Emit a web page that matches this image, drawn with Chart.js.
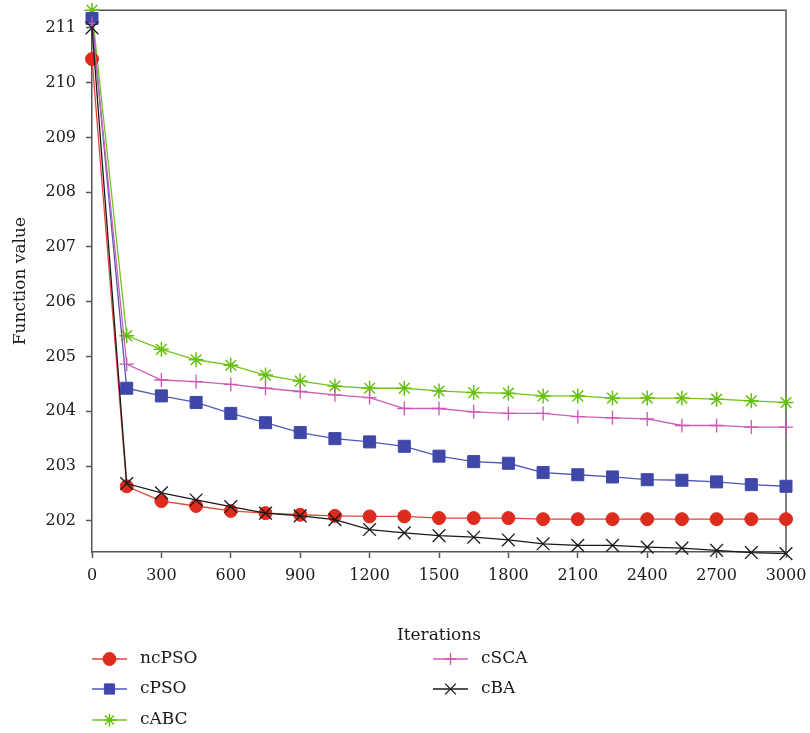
<!DOCTYPE html>
<html>
<head>
<meta charset="utf-8">
<script src="https://cdn.jsdelivr.net/npm/chart.js@4/dist/chart.umd.min.js"></script>
<style>
  html, body { margin: 0; padding: 0; background: #fff; }
  #wrap { width: 810px; height: 733px; position: relative; }
</style>
</head>
<body>
<div id="wrap"><canvas id="c" width="810" height="733"></canvas></div>
<script>
// Iteration counts sampled every 150 steps
const iterations = [0,150,300,450,600,750,900,1050,1200,1350,1500,1650,1800,1950,2100,2250,2400,2550,2700,2850,3000];

const ncPSO = [210.43,202.63,202.36,202.27,202.18,202.14,202.11,202.09,202.08,202.08,202.05,202.05,202.05,202.03,202.03,202.03,202.03,202.03,202.03,202.03,202.03];
const cPSO  = [211.17,204.42,204.28,204.16,203.96,203.79,203.61,203.50,203.44,203.36,203.18,203.08,203.05,202.88,202.84,202.80,202.75,202.74,202.71,202.66,202.63];
const cABC  = [211.32,205.38,205.13,204.94,204.84,204.66,204.55,204.46,204.42,204.42,204.37,204.34,204.33,204.28,204.28,204.24,204.24,204.24,204.22,204.19,204.16];
const cSCA  = [211.08,204.86,204.57,204.54,204.49,204.42,204.36,204.30,204.25,204.05,204.05,203.99,203.96,203.96,203.90,203.88,203.86,203.74,203.74,203.71,203.71];
const cBA   = [211.00,202.68,202.51,202.38,202.26,202.14,202.09,202.02,201.84,201.78,201.73,201.70,201.65,201.58,201.55,201.55,201.52,201.50,201.46,201.42,201.40];

const yTicks = [202,203,204,205,206,207,208,209,210,211];
const xTicks = [0,300,600,900,1200,1500,1800,2100,2400,2700,3000];

const FONT = "'DejaVu Serif', 'Liberation Serif', serif";
const TICK_SIZE = 16;
const TITLE_SIZE = 17;
const TEXT = '#1a1a1a';
const AXIS = '#555';

const series = [
  { label: 'ncPSO', data: ncPSO, color: '#dd2c1e', line: '#e2453a', style: 'circle',   radius: 6.5, bw: 1,   order: 3 },
  { label: 'cPSO',  data: cPSO,  color: '#3f48a8', line: '#4f58b8', style: 'rect',     radius: 8.5, bw: 1,   order: 4 },
  { label: 'cABC',  data: cABC,  color: '#66c10e', line: '#70c41c', style: 'star',     radius: 7.5, bw: 1.5, order: 5 },
  { label: 'cSCA',  data: cSCA,  color: '#cc55b5', line: '#cc5fb8', style: 'cross',    radius: 7,   bw: 1.3, order: 2 },
  { label: 'cBA',   data: cBA,   color: '#1a1a1a', line: '#1a1a1a', style: 'crossRot', radius: 9,   bw: 1.3, order: 1 }
];

const datasets = series.map(s => ({
  label: s.label,
  data: iterations.map((x, i) => ({ x: x, y: s.data[i] })),
  borderColor: s.line,
  borderWidth: 1.3,
  backgroundColor: s.color,
  pointStyle: s.style,
  pointRadius: s.radius,
  pointBorderColor: s.color,
  pointBackgroundColor: s.color,
  pointBorderWidth: s.bw,
  tension: 0,
  clip: false,
  order: s.order
}));

// Frame around the plotting area (top and right edges)
const framePlugin = {
  id: 'frame',
  beforeDatasetsDraw(chart) {
    const { ctx, chartArea: a } = chart;
    ctx.save();
    ctx.strokeStyle = AXIS;
    ctx.lineWidth = 1.5;
    ctx.beginPath();
    ctx.moveTo(a.left, a.top);
    ctx.lineTo(a.right, a.top);
    ctx.lineTo(a.right, a.bottom);
    ctx.stroke();
    ctx.restore();
  }
};

// Two-column legend under the axis title
const legendPlugin = {
  id: 'twoColLegend',
  afterDraw(chart) {
    const ctx = chart.ctx;
    const cols = [{ x0: 92, x1: 127, tx: 140 }, { x0: 433, x1: 468, tx: 481 }];
    const rows = [659, 689, 720];
    const slots = [[0, 0], [0, 1], [0, 2], [1, 0], [1, 1]];
    ctx.save();
    series.forEach((s, i) => {
      const c = cols[slots[i][0]];
      const y = rows[slots[i][1]];
      ctx.strokeStyle = s.line;
      ctx.lineWidth = 1.5;
      ctx.beginPath();
      ctx.moveTo(c.x0, y);
      ctx.lineTo(c.x1, y);
      ctx.stroke();
      ctx.fillStyle = s.color;
      ctx.strokeStyle = s.color;
      ctx.lineWidth = s.bw;
      Chart.helpers.drawPoint(ctx, { pointStyle: s.style, radius: s.style === 'circle' ? 6.5 : s.radius * 0.85, borderWidth: s.bw, rotation: 0 }, (c.x0 + c.x1) / 2, y);
      ctx.fillStyle = TEXT;
      ctx.font = TITLE_SIZE + "px " + FONT;
      ctx.textBaseline = 'middle';
      ctx.textAlign = 'left';
      ctx.fillText(s.label, c.tx, y);
    });
    ctx.restore();
  }
};

new Chart(document.getElementById('c'), {
  type: 'line',
  data: { datasets },
  plugins: [framePlugin, legendPlugin],
  options: {
    responsive: false,
    animation: false,
    events: [],
    layout: { padding: { top: 7, right: 24, bottom: 83, left: 0 } },
    plugins: { legend: { display: false }, tooltip: { enabled: false } },
    scales: {
      x: {
        type: 'linear',
        min: 0, max: 3000,
        afterBuildTicks: sc => { sc.ticks = xTicks.map(v => ({ value: v })); },
        afterFit: sc => { sc.height = 98; sc.paddingLeft = 0; sc.paddingRight = 0; },
        grid: { drawOnChartArea: false, drawTicks: true, tickLength: 6, tickColor: AXIS, tickWidth: 1.5 },
        border: { color: AXIS, width: 1.5 },
        ticks: { color: TEXT, font: { family: FONT, size: TICK_SIZE }, padding: 8, maxRotation: 0, callback: v => String(v) },
        title: { display: true, text: 'Iterations', color: TEXT, font: { family: FONT, size: TITLE_SIZE }, padding: { top: 4, bottom: 4 } }
      },
      y: {
        type: 'linear',
        min: 201.43, max: 211.32,
        afterBuildTicks: sc => { sc.ticks = yTicks.map(v => ({ value: v })); },
        afterFit: sc => { sc.width = 92; sc.paddingTop = 0; sc.paddingBottom = 0; },
        grid: { drawOnChartArea: false, drawTicks: true, tickLength: 6, tickColor: AXIS, tickWidth: 1.5 },
        border: { color: AXIS, width: 1.5 },
        ticks: { color: TEXT, font: { family: FONT, size: TICK_SIZE }, padding: 10, callback: v => String(v) },
        title: { display: true, text: 'Function value', color: TEXT, font: { family: FONT, size: TITLE_SIZE }, padding: { top: 10, bottom: 4 } }
      }
    }
  }
});
</script>
</body>
</html>
